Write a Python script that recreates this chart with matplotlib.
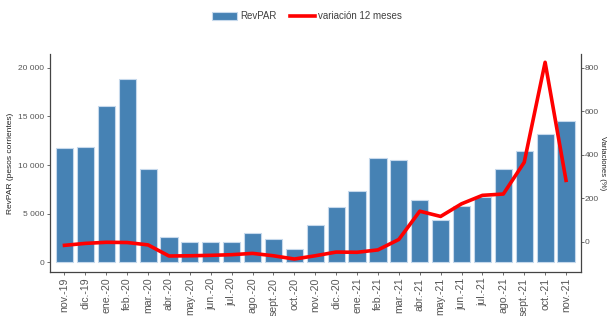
import numpy as np
import matplotlib
matplotlib.use("Agg")
import matplotlib.pyplot as plt
from matplotlib.ticker import FuncFormatter

plt.rcParams['font.family'] = ['Liberation Sans', 'DejaVu Sans']

# datos
meses = ['nov.-19', 'dic.-19', 'ene.-20', 'feb.-20', 'mar.-20', 'abr.-20', 'may.-20',
         'jun.-20', 'jul.-20', 'ago.-20', 'sept.-20', 'oct.-20', 'nov.-20', 'dic.-20',
         'ene.-21', 'feb.-21', 'mar.-21', 'abr.-21', 'may.-21', 'jun.-21', 'jul.-21',
         'ago.-21', 'sept.-21', 'oct.-21', 'nov.-21']
revpar = [11750, 11810, 16040, 18800, 9590, 2640, 2060,
          2060, 2100, 3020, 2440, 1370, 3840, 5670,
          7320, 10720, 10480, 6390, 4330, 5770, 6730,
          9620, 11470, 13230, 14500]
variacion = [-17, -8, -3, -4, -15, -66, -65,
             -63, -60, -54, -65, -80, -65, -48,
             -49, -38, 10, 140, 116, 174, 213,
             219, 365, 825, 282]

fig = plt.figure(figsize=(6.08, 3.16), dpi=100)
ax = fig.add_axes([0.082, 0.139, 0.873, 0.69])
x = np.arange(len(meses))

barras = ax.bar(x, revpar, width=0.82, color='#4682B4', edgecolor='#c6d9ec', linewidth=0.8,
                label='RevPAR', zorder=2)
ax.set_xlim(-0.7, len(meses) - 0.3)
ax.set_ylim(-1000, 21400)
ax.set_yticks([0, 5000, 10000, 15000, 20000])
ax.yaxis.set_major_formatter(FuncFormatter(lambda v, p: f'{int(v):,}'.replace(',', ' ')))
ax.set_xticks(x)
ax.set_xticklabels(meses, rotation=90, fontsize=7.6, color='#555555',
                   family=['Liberation Sans Narrow', 'Liberation Sans'])
ax.tick_params(axis='y', labelsize=6, colors='#555555', length=2, width=0.6, pad=2)
ax.tick_params(axis='x', length=2, width=0.6, color='#555555', pad=2)
ax.set_ylabel('RevPAR (pesos corrientes)', fontsize=6, color='#222222', labelpad=3)

ax2 = ax.twinx()
linea, = ax2.plot(x, variacion, color='#ff0000', linewidth=2.6, label='variación 12 meses', zorder=3)
ax2.set_ylim(-140, 863)
ax2.set_yticks([0, 200, 400, 600, 800])
ax2.tick_params(axis='y', labelsize=6, colors='#555555', length=2, width=0.6, pad=1)
ax2.set_ylabel('Variaciones (%)', fontsize=5.6, color='#222222', rotation=270, labelpad=5)

for a in (ax, ax2):
    a.spines['top'].set_visible(False)
    for s in ('left', 'right', 'bottom'):
        a.spines[s].set_color('#444444')
        a.spines[s].set_linewidth(0.9)
ax.spines['right'].set_visible(False)
ax2.spines['left'].set_visible(False)
ax2.spines['bottom'].set_visible(False)

fig.legend([barras, linea], ['RevPAR', 'variación 12 meses'], loc='center',
           bbox_to_anchor=(0.505, 0.948), ncol=2, frameon=False, fontsize=7,
           handlelength=2.6, handleheight=0.9, columnspacing=1.4, handletextpad=0.3,
           labelcolor='#404040')

fig.savefig('out.png', dpi=100)
